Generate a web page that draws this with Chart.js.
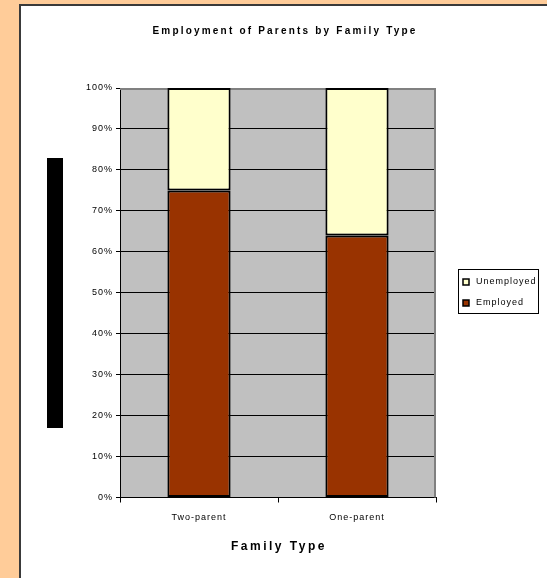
<!DOCTYPE html>
<html><head><meta charset="utf-8">
<script src="https://cdn.jsdelivr.net/npm/chart.js@4/dist/chart.umd.min.js"></script>
<style>html,body{margin:0;padding:0;background:#FFCC99;overflow:hidden}canvas{display:block}</style>
</head><body><canvas id="c" width="547" height="578"></canvas>
<script>
const categories = ['Two-parent', 'One-parent'];
const seriesNames = ['Employed', 'Unemployed'];
const employed = [75, 64];
const unemployed = [25, 36];
const yTickLabels = ['0%', '10%', '20%', '30%', '40%', '50%', '60%', '70%', '80%', '90%', '100%'];
const chartTitle = 'Employment of Parents by Family Type';
const xAxisTitle = 'Family Type';

const FONT = '"Liberation Sans", Arial, sans-serif';

const deco = {
  id: 'deco',
  beforeLayout(chart) { chart.ctx.letterSpacing = '1px'; },
  beforeDraw(chart) {
    const ctx = chart.ctx, w = chart.width, h = chart.height;
    ctx.save();
    ctx.fillStyle = '#FFCC99'; ctx.fillRect(0, 0, w, h);
    ctx.fillStyle = '#3a3a3a'; ctx.fillRect(19, 4, w, h);
    ctx.fillStyle = '#ffffff'; ctx.fillRect(21, 6, w, h);
    ctx.fillStyle = '#000000'; ctx.fillRect(47, 158, 16, 270);
    const a = chart.chartArea;
    ctx.fillStyle = '#C0C0C0'; ctx.fillRect(a.left, a.top, a.right - a.left, a.bottom - a.top);
    ctx.restore();
    ctx.letterSpacing = '1px';
  },
  beforeDatasetsDraw(chart) {
    const ctx = chart.ctx, a = chart.chartArea;
    ctx.save();
    ctx.strokeStyle = '#808080'; ctx.lineWidth = 2;
    ctx.beginPath();
    ctx.moveTo(a.left, a.top + 1); ctx.lineTo(a.right - 1, a.top + 1); ctx.lineTo(a.right - 1, a.bottom);
    ctx.stroke();
    ctx.restore();
  },
  afterDraw(chart) {
    const ctx = chart.ctx, a = chart.chartArea;
    ctx.save();
    ctx.fillStyle = '#000';
    ctx.textBaseline = 'middle';
    ctx.textAlign = 'center';
    ctx.font = 'bold 10px ' + FONT;
    ctx.letterSpacing = '2.2px';
    ctx.fillText(chartTitle, 285, 31);
    ctx.font = 'bold 12px ' + FONT;
    ctx.letterSpacing = '2.5px';
    ctx.fillText(xAxisTitle, (a.left + a.right) / 2 + 1, 547);
    // legend
    const lx = 458, ly = 269, lw = 80, lh = 44;
    ctx.fillStyle = '#fff'; ctx.fillRect(lx, ly, lw, lh);
    ctx.strokeStyle = '#000'; ctx.lineWidth = 1;
    ctx.strokeRect(lx + 0.5, ly + 0.5, lw, lh);
    ctx.font = '9px ' + FONT;
    ctx.letterSpacing = '1px';
    ctx.textAlign = 'left';
    const order = [1, 0];
    order.forEach((di, i) => {
      const ds = chart.data.datasets[di];
      const y = ly + 13 + i * 21;
      ctx.fillStyle = ds.backgroundColor;
      ctx.fillRect(463, y - 3, 6, 6);
      ctx.strokeStyle = '#000'; ctx.lineWidth = 1.5;
      ctx.strokeRect(463, y - 3, 6, 6);
      ctx.fillStyle = '#000';
      ctx.fillText(ds.label, 476, y);
    });
    ctx.restore();
  }
};

new Chart(document.getElementById('c'), {
  type: 'bar',
  data: {
    labels: categories,
    datasets: [
      { label: seriesNames[0], data: employed, backgroundColor: '#993300', borderColor: '#000', borderWidth: 2, borderSkipped: false, barPercentage: 0.4, categoryPercentage: 1 },
      { label: seriesNames[1], data: unemployed, backgroundColor: '#FFFFCC', borderColor: '#000', borderWidth: 2, borderSkipped: false, barPercentage: 0.4, categoryPercentage: 1 }
    ]
  },
  options: {
    responsive: false,
    devicePixelRatio: 1,
    animation: false,
    layout: { padding: { left: 70, right: 111, top: 88, bottom: 0 } },
    plugins: { legend: { display: false }, title: { display: false }, tooltip: { enabled: false } },
    scales: {
      x: {
        stacked: true,
        offset: true,
        grid: { offset: true, drawOnChartArea: false, drawTicks: true, tickLength: 5, tickColor: '#000', lineWidth: 1 },
        border: { display: true, color: '#000', width: 1 },
        ticks: { font: { family: FONT, size: 9 }, color: '#000', padding: 10, maxRotation: 0 },
        afterFit(s) { s.height = 80.5; }
      },
      y: {
        stacked: true,
        min: 0, max: 100,
        ticks: { stepSize: 10, callback: (v, i) => yTickLabels[i], font: { family: FONT, size: 9 }, color: '#000', padding: 3 },
        grid: { color: c => (c.tick && c.tick.value === 100) ? 'rgba(0,0,0,0)' : '#000', tickColor: '#000', tickLength: 4, lineWidth: 1 },
        border: { color: '#000', width: 1 },
        afterFit(s) { s.width = 50; }
      }
    }
  },
  plugins: [deco]
});
</script>
</body></html>
